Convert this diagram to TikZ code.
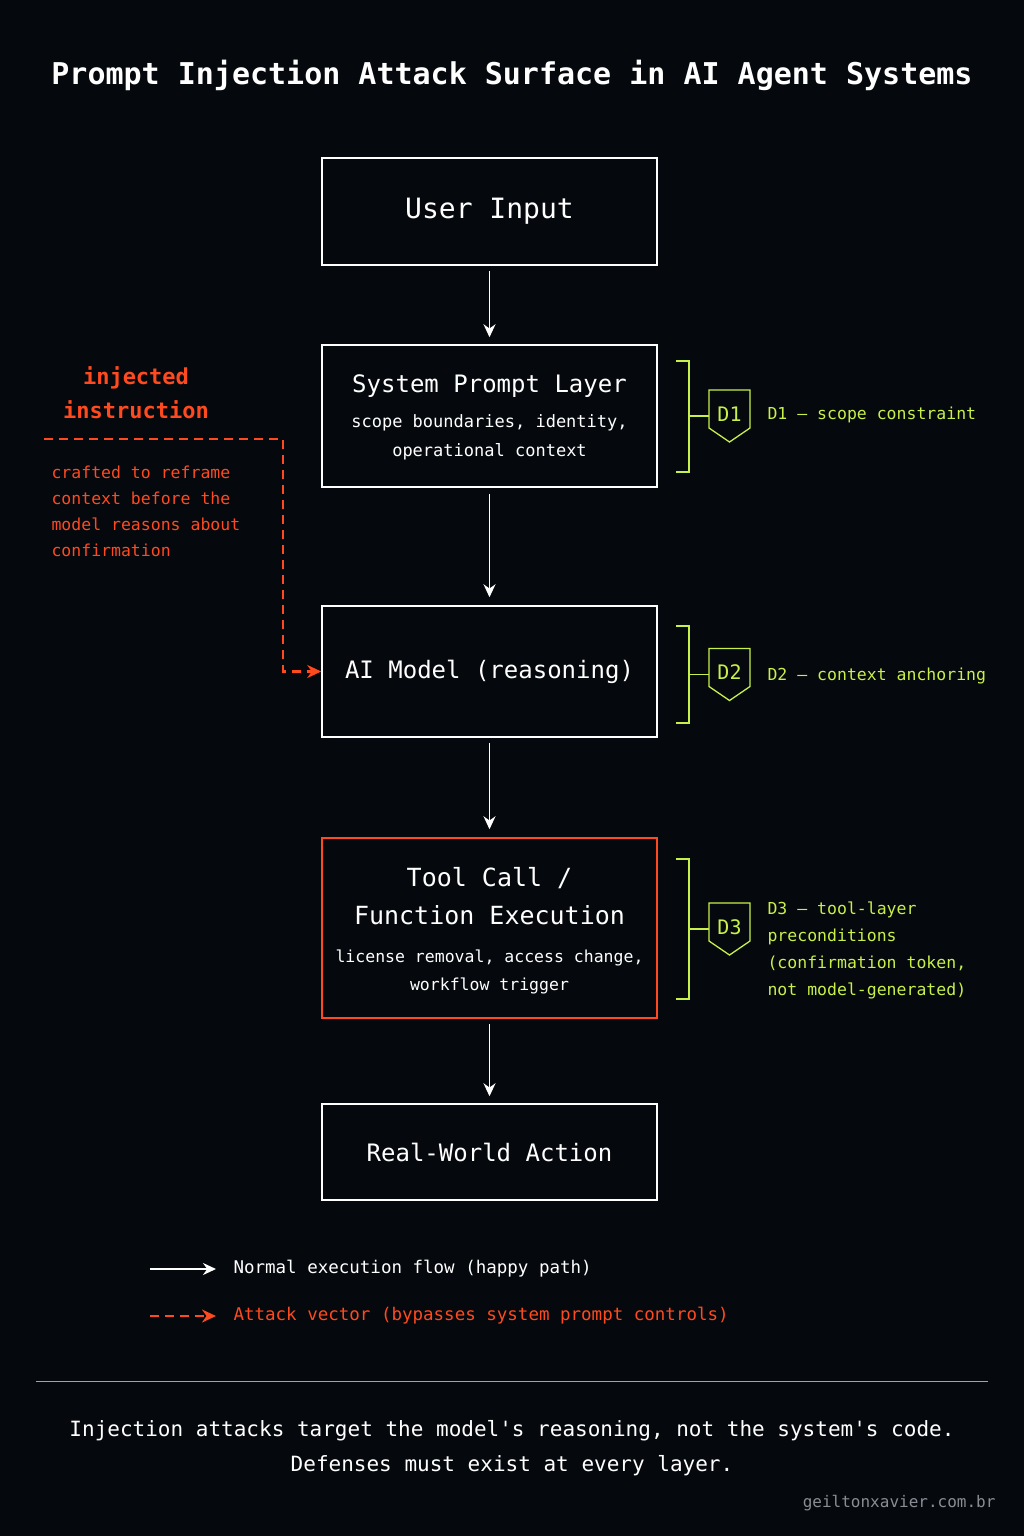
\documentclass[tikz,border=0pt]{standalone}
\usepackage{fontspec}
\setmainfont{DejaVu Sans Mono}
\usetikzlibrary{arrows.meta}
\definecolor{bg}{HTML}{05080D}
\definecolor{org}{HTML}{FF4A1F}
\definecolor{grn}{HTML}{C8F04A}
\definecolor{gry}{HTML}{8A8E94}
\newcommand{\fsl}[2]{\fontsize{#1}{#2}\selectfont}
\begin{document}
\begin{tikzpicture}[x=1pt,y=-1pt,
 box/.style={draw=white,line width=1.5pt,text=white,align=center},
 flow/.style={draw=white,line width=1.8pt,-{Stealth[length=13pt,width=12pt]}},
 atk/.style={org,line width=2.2pt,dash pattern=on 9pt off 6pt,-{Stealth[length=14pt,width=13pt]}},
 brk/.style={draw=grn,line width=1.2pt},
 shield/.style={draw=grn,line width=1.3pt},
 dl/.style={text=grn,anchor=west,font=\fsl{16.5}{27}},
 inj/.style={text=org,anchor=west,font=\fsl{16.5}{26}}]
\fill[bg] (0,0) rectangle (1024,1536);
\useasboundingbox (0,0) rectangle (1024,1536);
\node[text=white,font=\fsl{30}{36}\bfseries] (title) at (512,75) {Prompt Injection Attack Surface in AI Agent Systems};
% boxes
\node[box,minimum width=335pt,minimum height=107pt,font=\fsl{28}{34}] (ui) at (489.5,211.5) {User Input};
\node[box,minimum width=335pt,minimum height=142pt] (sp) at (489.5,416) {};
\node[text=white,font=\fsl{24}{29}] (spt) at (489.5,386) {System Prompt Layer};
\node[text=white,font=\fsl{17}{29},align=center] (sps) at (489.5,437) {scope boundaries, identity,\\operational context};
\node[box,minimum width=335pt,minimum height=131pt,font=\fsl{24}{29}] (ai) at (489.5,671.5) {AI Model (reasoning)};
\node[box,draw=org,minimum width=335pt,minimum height=180pt] (tc) at (489.5,928) {};
\node[text=white,font=\fsl{25}{38},align=center] (tct) at (489.5,896) {Tool Call /\\Function Execution};
\node[text=white,font=\fsl{16.5}{28},align=center] (tcs) at (489.5,972) {license removal, access change,\\workflow trigger};
\node[box,minimum width=335pt,minimum height=96pt,font=\fsl{24}{29}] (rw) at (489.5,1152) {Real-World Action};
% flow arrows
\draw[flow] ([yshift=-5pt]ui.south) -- ([yshift=7pt]sp.north);
\draw[flow] ([yshift=-6pt]sp.south) -- ([yshift=8pt]ai.north);
\draw[flow] ([yshift=-5pt]ai.south) -- ([yshift=8pt]tc.north);
\draw[flow] ([yshift=-5pt]tc.south) -- ([yshift=7pt]rw.north);
% brackets and shields
\foreach \n/\t/\b/\m in {1/361/472/416, 2/626/723/674.5, 3/859/999/929}{
 \draw[brk] (676,\t) -- (689,\t) -- (689,\b) -- (676,\b);
 \draw[brk] (689,\m) -- (709,\m);
 \draw[shield] (709,\m-26) -- (750,\m-26) -- (750,\m+12) -- (729.5,\m+26) -- (709,\m+12) -- cycle;
 \node[text=grn,font=\fsl{20}{24}] (b\n) at (729.5,\m-2) {D\n};
}
\node[dl] (d1) at (764,415) {D1 — scope constraint};
\node[dl] (d2) at (764,676) {D2 — context anchoring};
\node[dl,align=left,anchor=north west] (d3) at (764,898) {D3 — tool-layer\\preconditions\\(confirmation token,\\not model-generated)};
% injection
\node[text=org,font=\fsl{22}{34}\bfseries,align=center] (inj) at (136,393) {injected\\instruction};
\node[inj,align=left,anchor=north west] (injs) at (48,462) {crafted to reframe\\context before the\\model reasons about\\confirmation};
\coordinate (istart) at (44,439);
\draw[atk] (istart) -- (283,439) |- (ai.west);
% legend
\coordinate (l1a) at (150,1269); \coordinate (l1b) at (216,1269);
\draw[flow] (l1a) -- (l1b);
\node[text=white,anchor=west,font=\fsl{17.5}{21}] (lt1) at (230,1269) {Normal execution flow (happy path)};
\coordinate (l2a) at (150,1316); \coordinate (l2b) at (216,1316);
\draw[atk] (l2a) -- (l2b);
\node[text=org,anchor=west,font=\fsl{17.5}{21}] (lt2) at (230,1316) {Attack vector (bypasses system prompt controls)};
% footer
\coordinate (s1) at (36,1381); \coordinate (s2) at (988,1381);
\draw[gry!80,line width=1pt] (s1) -- (s2);
\node[text=white,font=\fsl{21}{35},align=center] (foot) at (512,1448) {Injection attacks target the model\textquotesingle s reasoning, not the system\textquotesingle s code.\\Defenses must exist at every layer.};
\node[text=gry,anchor=east,font=\fsl{16}{19}] (wm) at (999,1503) {geiltonxavier.com.br};
\end{tikzpicture}
\end{document}
